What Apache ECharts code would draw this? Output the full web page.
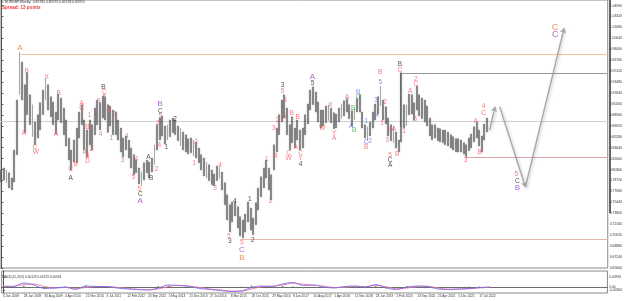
<!DOCTYPE html>
<html>
<head>
<meta charset="utf-8">
<script src="https://cdn.jsdelivr.net/npm/echarts@6/dist/echarts.min.js"></script>
<style>
  html, body { margin: 0; padding: 0; background: #fff; }
  #chart { width: 625px; height: 301px; }
</style>
</head>
<body>
<div id="chart"></div>
<script>
// one slot = 4 weekly bars
const N = 234;

const dateLabels = ["6 Jun 2008", "28 Jan 2009", "30 Aug 2009", "4 Apr 2010", "21 Nov 2010", "3 Jul 2011",
  "12 Feb 2012", "23 Sep 2012", "5 May 2013", "15 Dec 2013", "27 Jul 2014", "8 Mar 2015", "18 Oct 2015",
  "29 May 2016", "8 Jan 2017", "20 Aug 2017", "1 Apr 2018", "11 Nov 2018", "23 Jun 2019", "2 Feb 2020",
  "13 Sep 2020", "25 Apr 2021", "5 Dec 2021", "17 Jul 2022"];

const highs = [
  0.803, 0.806, 0.803, 0.799, 0.791, 0.833, 0.908, 0.980, 0.965, 0.931,
  0.949, 0.916, 0.901, 0.875, 0.886, 0.904, 0.923, 0.941, 0.931, 0.913,
  0.905, 0.890, 0.917, 0.911, 0.896, 0.878, 0.851, 0.833, 0.848, 0.866,
  0.890, 0.901, 0.878, 0.863, 0.878, 0.871, 0.896, 0.908, 0.904, 0.914,
  0.913, 0.901, 0.899, 0.893, 0.890, 0.878, 0.866, 0.851, 0.854, 0.848,
  0.836, 0.826, 0.818, 0.806, 0.800, 0.814, 0.818, 0.815, 0.821, 0.841,
  0.871, 0.881, 0.884, 0.869, 0.871, 0.878, 0.881, 0.878, 0.869, 0.866,
  0.860, 0.856, 0.850, 0.851, 0.848, 0.845, 0.836, 0.826, 0.821, 0.815,
  0.811, 0.803, 0.797, 0.809, 0.808, 0.800, 0.784, 0.766, 0.751, 0.755,
  0.755, 0.748, 0.733, 0.728, 0.737, 0.755, 0.746, 0.731, 0.754, 0.776,
  0.793, 0.806, 0.818, 0.806, 0.796, 0.841, 0.866, 0.886, 0.908, 0.916,
  0.896, 0.871, 0.883, 0.866, 0.878, 0.863, 0.866, 0.886, 0.902, 0.923,
  0.928, 0.920, 0.905, 0.893, 0.893, 0.899, 0.901, 0.896, 0.889, 0.887,
  0.896, 0.902, 0.907, 0.910, 0.901, 0.892, 0.896, 0.910, 0.916, 0.890,
  0.871, 0.868, 0.875, 0.890, 0.902, 0.913, 0.929, 0.908, 0.898, 0.881,
  0.871, 0.869, 0.860, 0.848, 0.949, 0.901, 0.901, 0.917, 0.916, 0.904,
  0.929, 0.916, 0.911, 0.908, 0.899, 0.881, 0.871, 0.871, 0.866, 0.865,
  0.863, 0.863, 0.860, 0.856, 0.853, 0.850, 0.850, 0.848, 0.844, 0.841,
  0.851, 0.857, 0.868, 0.875, 0.863, 0.854, 0.872, 0.881
];

const lows = [
  0.785, 0.788, 0.784, 0.776, 0.773, 0.785, 0.826, 0.916, 0.908, 0.859,
  0.886, 0.871, 0.853, 0.841, 0.851, 0.863, 0.886, 0.908, 0.893, 0.883,
  0.871, 0.857, 0.878, 0.874, 0.856, 0.839, 0.818, 0.803, 0.815, 0.814,
  0.851, 0.871, 0.833, 0.823, 0.841, 0.833, 0.856, 0.871, 0.863, 0.881,
  0.878, 0.860, 0.869, 0.856, 0.856, 0.848, 0.830, 0.823, 0.833, 0.821,
  0.806, 0.796, 0.799, 0.782, 0.779, 0.788, 0.799, 0.791, 0.800, 0.811,
  0.833, 0.848, 0.854, 0.842, 0.848, 0.853, 0.859, 0.856, 0.847, 0.839,
  0.833, 0.830, 0.827, 0.829, 0.824, 0.821, 0.814, 0.803, 0.794, 0.791,
  0.787, 0.781, 0.779, 0.787, 0.790, 0.773, 0.751, 0.728, 0.710, 0.725,
  0.734, 0.716, 0.704, 0.701, 0.710, 0.725, 0.713, 0.706, 0.721, 0.743,
  0.763, 0.776, 0.791, 0.773, 0.758, 0.803, 0.830, 0.856, 0.875, 0.881,
  0.856, 0.833, 0.844, 0.836, 0.848, 0.833, 0.836, 0.856, 0.872, 0.893,
  0.901, 0.890, 0.875, 0.866, 0.869, 0.874, 0.877, 0.874, 0.865, 0.866,
  0.875, 0.880, 0.884, 0.890, 0.880, 0.869, 0.878, 0.890, 0.890, 0.866,
  0.851, 0.847, 0.854, 0.866, 0.878, 0.887, 0.899, 0.878, 0.872, 0.854,
  0.847, 0.844, 0.836, 0.830, 0.845, 0.866, 0.869, 0.886, 0.887, 0.878,
  0.893, 0.884, 0.880, 0.875, 0.869, 0.854, 0.848, 0.851, 0.847, 0.845,
  0.844, 0.841, 0.839, 0.836, 0.833, 0.830, 0.830, 0.830, 0.827, 0.823,
  0.832, 0.836, 0.845, 0.851, 0.839, 0.830, 0.848, 0.860
];

const currentPrice = 0.869;
const priceLine = 0.8765;

// horizontal levels: [startSlot, price, colour]
const levels = [
  [7.2, 0.977, "#f5c39c"],
  [93, 0.6995, "#e6b9a4"],
  [178.8, 0.8225, "#dba3a3"],
  [153.5, 0.9485, "#9a9a9a"],
  [-0.5, priceLine, "#d0d0d0"]
];
const boxEdge = [[153.5, 0.9485], [153.5, 0.868]];

// projected path (slot, price)
const projection = [
  [[188, 0.863], [190.1, 0.898]],
  [[191.9, 0.898], [201.8, 0.7775]],
  [[201.8, 0.7775], [216.7, 1.016]]
];

// wave labels: [slot, price, text, style]
const waveLabels = [
  [7.2, 0.986, "A", "O"], [8.7, 0.8585, "A", "r"], [9.8, 0.9515, "B", "r"],
  [12.9, 0.8375, "C", "r"], [13.3, 0.830, "W", "r"], [17.5, 0.9425, "X", "r"],
  [21, 0.857, "A", "r"], [22.1, 0.9185, "B", "r"], [26.7, 0.8045, "C", "r"], [26.7, 0.791, "A", "k"],
  [30.9, 0.9035, "A", "r"], [30.9, 0.896, "C", "r"], [32.1, 0.830, "A", "r"], [33.2, 0.823, "B", "r"],
  [33.2, 0.8155, "D", "r"], [28.6, 0.812, "B", "r"], [33.2, 0.8675, "B", "r"], [34, 0.8855, "1", "r"],
  [34.7, 0.8345, "2", "r"], [37.4, 0.9065, "3", "r"], [38.2, 0.857, "4", "r"],
  [39.3, 0.9275, "B", "k"], [39.7, 0.920, "C", "r"], [39.7, 0.9125, "5", "r"],
  [41.6, 0.893, "2", "r"], [43.6, 0.887, "3", "r"], [40.9, 0.8615, "1", "r"], [42.4, 0.851, "1", "r"],
  [48.2, 0.854, "4", "r"], [46.7, 0.818, "3", "r"], [52, 0.8195, "4", "r"], [50.8, 0.7925, "5", "r"],
  [53.1, 0.7745, "5", "r"], [53.5, 0.767, "C", "k"], [53.5, 0.757, "A", "P"],
  [56.6, 0.8225, "A", "k"], [57.7, 0.791, "B", "k"], [59.7, 0.8045, "2", "r"],
  [60.8, 0.8405, "4", "r"], [60.4, 0.8735, "3", "r"], [61.2, 0.884, "5", "r"],
  [61.2, 0.8915, "C", "k"], [61.2, 0.902, "B", "P"], [63.5, 0.8375, "1", "k"], [66.9, 0.8795, "2", "k"],
  [75, 0.845, "2", "r"], [74.2, 0.8135, "1", "r"], [84.2, 0.8105, "4", "r"], [82.3, 0.776, "3", "r"],
  [89.9, 0.7565, "4", "k"], [87.6, 0.704, "5", "r"], [88, 0.6965, "3", "k"], [95.7, 0.7595, "1", "k"],
  [92.6, 0.695, "5", "r"], [92.6, 0.683, "C", "P"], [92.6, 0.671, "B", "O"], [96.8, 0.698, "2", "k"],
  [102.2, 0.8195, "1", "r"], [103.7, 0.7565, "2", "r"], [105.6, 0.824, "4", "r"], [104.9, 0.866, "3", "r"],
  [106.4, 0.878, "2", "r"], [108.3, 0.9305, "3", "k"], [108.3, 0.9215, "5", "r"],
  [109.1, 0.908, "B", "r"], [109.1, 0.8825, "A", "r"], [111.8, 0.8885, "B", "r"],
  [110.6, 0.8285, "C", "r"], [110.6, 0.821, "W", "r"], [113.3, 0.8375, "A", "r"], [114.1, 0.8825, "B", "r"],
  [115.2, 0.8285, "C", "r"], [115.2, 0.821, "Y", "r"], [115.2, 0.812, "4", "k"],
  [119.8, 0.9435, "A", "P"], [119.8, 0.9335, "5", "k"], [123.6, 0.866, "W", "r"], [126.7, 0.9005, "X", "r"],
  [128.2, 0.8585, "Y", "r"], [128.2, 0.851, "A", "r"], [133.2, 0.9125, "A", "r"],
  [134.7, 0.869, "A", "b"], [135.5, 0.896, "B", "g"], [135.9, 0.863, "B", "g"],
  [137.4, 0.920, "B", "b"], [137.4, 0.9125, "C", "g"], [140.5, 0.8765, "1", "b"],
  [140.5, 0.845, "C", "b"], [140.5, 0.8375, "B", "r"], [142, 0.8465, "2", "b"],
  [144.3, 0.908, "3", "b"], [144.7, 0.8855, "4", "b"], [145.9, 0.935, "5", "b"], [145.9, 0.950, "B", "r"],
  [147.8, 0.905, "2", "r"], [146.6, 0.8735, "1", "r"], [148.5, 0.848, "3", "r"],
  [150, 0.8645, "4", "r"], [151.2, 0.8645, "A", "r"], [149.7, 0.8255, "5", "r"],
  [149.7, 0.818, "C", "k"], [149.7, 0.8105, "A", "k"], [152.4, 0.827, "B", "r"],
  [153.5, 0.962, "B", "k"], [153.5, 0.953, "C", "r"], [155.1, 0.8615, "1", "r"],
  [157.4, 0.9215, "A", "r"], [159.3, 0.8795, "B", "r"], [159.6, 0.9395, "2", "r"], [159.6, 0.932, "C", "r"],
  [178.8, 0.818, "3", "r"], [182.6, 0.8765, "A", "r"], [184.2, 0.830, "B", "r"],
  [185.7, 0.899, "4", "r"], [185.7, 0.8885, "C", "r"],
  [198.3, 0.797, "5", "r"], [198.7, 0.7865, "C", "k"], [198.7, 0.776, "B", "P"],
  [213.3, 1.0175, "C", "O2"], [213.3, 1.006, "C", "P2"]
];

// MACD pane, one value every 4 slots
const macdStep = 4;
const macdMain = [0.001, 0.0005, 0.004, 0.002, -0.0015, -0.001, 0, -0.0025, 0.001, 0.0005,
  0.0005, -0.001, -0.002, -0.0025, -0.003, -0.001, 0.002, 0.0015, 0.0005, -0.0015,
  -0.0025, -0.0035, -0.0045, -0.004, -0.0005, 0.001, 0.0005, 0.003, 0.0045, 0.0015,
  0.002, 0, -0.001, 0.0005, 0.001, 0, 0.0025, -0.001, -0.0025, 0,
  0.001, 0.0005, -0.002, -0.0025, -0.002, -0.0015, -0.0005, 0];
const macdSignal = [0.0005, 0.0007, 0.0025, 0.003, 0.0005, -0.001, -0.0005, -0.0015, -0.0005, 0.0005,
  0.0005, -0.0003, -0.0015, -0.0023, -0.0028, -0.002, 0.0005, 0.0017, 0.001, -0.0005,
  -0.002, -0.003, -0.004, -0.0042, -0.002, 0.0003, 0.0008, 0.002, 0.0038, 0.0028,
  0.0018, 0.0008, -0.0005, -0.0002, 0.0007, 0.0004, 0.0015, 0.0003, -0.0018, -0.001,
  0.0005, 0.0008, -0.001, -0.0022, -0.0022, -0.0018, -0.001, -0.0003];
const macdHist = [0.0005, -0.0002, 0.0015, -0.001, -0.002, 0, 0.0005, -0.001, 0.0015, 0,
  0, -0.0007, -0.0005, -0.0002, -0.0002, 0.001, 0.0015, -0.0002, -0.0005, -0.001,
  -0.0005, -0.0005, -0.0005, 0.0002, 0.0015, 0.0007, -0.0003, 0.001, 0.0007, -0.0013,
  0.0002, -0.0008, -0.0005, 0.0007, 0.0003, -0.0004, 0.001, -0.0013, -0.0007, 0.001,
  0.0005, -0.0003, -0.001, -0.0003, 0.0002, 0.0003, 0.0005, 0.0003];
const macdTicks = [0.0121, 0.0099, 0, -0.003];

const styles = {
  r: { color: "#f05a64", fontSize: 6.5 },
  k: { color: "#1e1e1e", fontSize: 6.5 },
  b: { color: "#5f74ec", fontSize: 6.5 },
  g: { color: "#3fa844", fontSize: 6.5 },
  P: { color: "#9a3cc8", fontSize: 8 },
  O: { color: "#e8782e", fontSize: 8 },
  P2: { color: "#9a3cc8", fontSize: 9 },
  O2: { color: "#e8782e", fontSize: 9.5 }
};

const slotNames = [];
for (let i = 0; i < N; i++) {
  slotNames.push(i % 8 === 0 && dateLabels[i / 8] ? dateLabels[i / 8] : "");
}
const everyEighth = (i) => i % 8 === 0 && i / 8 < dateLabels.length;

const candles = highs.map((h, i) => [lows[i], h, lows[i], h]);

const levelLines = levels.map(([s, p, c]) => ({
  coords: [[s, p], [N - 0.5, p]],
  lineStyle: { color: c }
}));
levelLines.push({ coords: boxEdge, lineStyle: { color: "#9a9a9a" } });

const chart = echarts.init(document.getElementById("chart"), null, { renderer: "canvas" });

chart.setOption({
  animation: false,
  backgroundColor: "#fff",
  textStyle: { fontFamily: "Liberation Sans, Arial, sans-serif" },
  grid: [
    { left: 0, top: 0, width: 610, height: 268, show: true, borderColor: "#8a8a8a", borderWidth: 1 },
    { left: 0, top: 271, width: 610, height: 22, show: true, borderColor: "#8a8a8a", borderWidth: 1 }
  ],
  xAxis: [
    { type: "category", gridIndex: 0, data: slotNames, show: false },
    {
      type: "category", gridIndex: 1, data: slotNames, position: "bottom",
      axisLine: { lineStyle: { color: "#777" } },
      axisTick: { interval: everyEighth, length: 2, lineStyle: { color: "#555" } },
      axisLabel: { interval: everyEighth, fontSize: 3.2, color: "#333", align: "left", margin: 2 }
    },
    { type: "value", gridIndex: 0, min: -0.5, max: N - 0.5, show: false },
    { type: "value", gridIndex: 1, min: -0.5, max: N - 0.5, show: false, position: "bottom" }
  ],
  yAxis: [
    {
      type: "value", gridIndex: 0, position: "right", min: 0.656, max: 1.058, interval: 0.0164,
      splitLine: { show: false },
      axisLine: { show: true, lineStyle: { color: "#555" } },
      axisTick: { show: true, length: 2, lineStyle: { color: "#555" } },
      axisLabel: { fontSize: 3.4, color: "#333", margin: 2, showMaxLabel: false, formatter: (v) => v.toFixed(5) }
    },
    {
      type: "value", gridIndex: 1, position: "right", min: -0.006, max: 0.016,
      splitLine: { show: false },
      axisLine: { show: true, lineStyle: { color: "#555" } },
      axisTick: { show: true, length: 2, customValues: macdTicks },
      axisLabel: {
        fontSize: 3.2, color: "#333", margin: 2, customValues: macdTicks,
        formatter: (v) => (v === 0 ? "0.00" : v.toFixed(5))
      }
    }
  ],
  graphic: [
    { type: "rect", left: 609, top: 0, shape: { width: 2, height: 213 }, style: { fill: "#666" }, silent: true },
    { type: "text", left: 2, top: 1, style: { text: "\u25BE EURGBP,Weekly  0.85785 0.85973 0.85728 0.85970", fontSize: 3.4, fill: "#333" } },
    { type: "text", left: 2, top: 5, style: { text: "Spread: 13 points", fontSize: 4.6, fontWeight: "bold", fill: "#f03838" } },
    { type: "text", left: 2, top: 276, style: { text: "MACD(12,26,9) 0.00123 0.00129 0.00094", fontSize: 3.2, fill: "#333" } }
  ],
  series: [
    {
      type: "lines", coordinateSystem: "cartesian2d", xAxisIndex: 2, yAxisIndex: 0,
      polyline: false, symbol: "none", lineStyle: { width: 1, opacity: 1 },
      data: levelLines, z: 1
    },
    {
      type: "candlestick", xAxisIndex: 0, yAxisIndex: 0, data: candles, barWidth: 1.4,
      itemStyle: {
        color: "#5e5e5e", color0: "#5e5e5e", borderColor: "#5e5e5e", borderColor0: "#5e5e5e", borderWidth: 0.3,
        shadowBlur: 2, shadowColor: "rgba(0,0,0,0.28)"
      },
      markLine: {
        silent: true, symbol: "none", animation: false,
        lineStyle: { opacity: 0 },
        data: [{ yAxis: currentPrice }],
        label: {
          position: "end", distance: 1, fontSize: 3.6, color: "#fff", backgroundColor: "#111",
          padding: [1, 2], formatter: () => currentPrice.toFixed(5)
        }
      },
      z: 2
    },
    {
      type: "lines", coordinateSystem: "cartesian2d", xAxisIndex: 2, yAxisIndex: 0,
      symbol: ["none", "arrow"], symbolSize: 5,
      lineStyle: { color: "#a6a6a6", width: 1.3, opacity: 1, shadowBlur: 3, shadowColor: "rgba(0,0,0,0.25)", shadowOffsetX: 1, shadowOffsetY: 1 },
      data: projection.map((c) => ({ coords: c })), z: 3
    },
    {
      type: "scatter", xAxisIndex: 2, yAxisIndex: 0, symbolSize: 0, z: 4,
      data: waveLabels.map(([s, p, t, k]) => ({
        value: [s, p],
        label: { show: true, position: "inside", formatter: t, color: styles[k].color, fontSize: styles[k].fontSize }
      }))
    },
    {
      type: "lines", coordinateSystem: "cartesian2d", xAxisIndex: 3, yAxisIndex: 1, symbol: "none",
      lineStyle: { color: "#555", width: 0.8, type: [1, 1.5], opacity: 1 },
      data: [{ coords: [[-0.5, 0], [N - 0.5, 0]] }]
    },
    {
      type: "bar", xAxisIndex: 3, yAxisIndex: 1, barWidth: 1.5,
      itemStyle: { color: "#49a84c" },
      data: macdHist.map((v, k) => [k * macdStep, v])
    },
    {
      type: "line", xAxisIndex: 3, yAxisIndex: 1, symbol: "none", smooth: 0.3,
      lineStyle: { color: "#f07aa0", width: 0.9 },
      data: macdSignal.map((v, k) => [k * macdStep, v])
    },
    {
      type: "line", xAxisIndex: 3, yAxisIndex: 1, symbol: "none", smooth: 0.3,
      lineStyle: { color: "#7f6cf0", width: 0.9 },
      data: macdMain.map((v, k) => [k * macdStep, v])
    }
  ]
});
</script>
</body>
</html>
